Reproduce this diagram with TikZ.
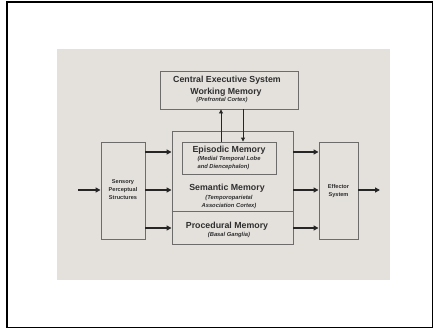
\documentclass[tikz,border=0pt]{standalone}
\usepackage{fontspec}
\setmainfont{Liberation Sans}
\usetikzlibrary{arrows.meta}
\definecolor{bg}{HTML}{E4E1DD}
\definecolor{boxline}{HTML}{6E6C6A}
\definecolor{txt}{HTML}{2E2E2E}
\tikzset{
  box/.style={draw=boxline, line width=0.9pt},
  flow/.style={line width=1.6pt, -{Triangle[length=5pt,width=5pt]}, black!85},
  thin flow/.style={line width=0.9pt, -{Triangle[length=4pt,width=4pt]}, black!85},
  title/.style={font=\bfseries\fontsize{8.8}{10}\selectfont, text=txt, inner sep=0pt},
  sub/.style={font=\bfseries\itshape\fontsize{5.8}{8}\selectfont, text=txt, inner sep=0pt, align=center},
  small/.style={font=\bfseries\fontsize{5.6}{8}\selectfont, text=txt, inner sep=0pt, align=center}
}
\begin{document}
\begin{tikzpicture}[x=1pt,y=-1pt]
\useasboundingbox (0,0) rectangle (434,329);
\fill[white] (0,0) rectangle (434,329);
\draw[line width=1.8pt] (7,2) rectangle (432.5,327.5);
\fill[bg] (57,49) rectangle (390,280);
% boxes
\node[box, minimum width=138pt, minimum height=38pt, inner sep=0pt] (ces) at (229,90) {};
\node[box, minimum width=121pt, minimum height=113pt, inner sep=0pt] (mem) at (232.5,187.5) {};
\draw[box] (mem.west |- 0,211) coordinate (dl) -- (mem.east |- 0,211) coordinate (dr);
\node[box, minimum width=94pt, minimum height=32pt, inner sep=0pt] (epi) at (229,158) {};
\node[box, minimum width=44pt, minimum height=97pt, inner sep=0pt] (sen) at (123,190.5) {};
\node[box, minimum width=39pt, minimum height=97pt, inner sep=0pt] (eff) at (338.5,190.5) {};
% texts
\node[title] (t1) at (227,80.5) {Central Executive System};
\node[title] (t2) at (226,92) {Working Memory};
\node[sub] (t3) at (222,100.5) {(Prefrontal Cortex)};
\node[title] (e1) at (229,150.5) {Episodic Memory};
\node[sub, align=left] (e2) at (229,163.5) {(Medial Temporal Lobe\\and Diencephalon)};
\node[title] (s1) at (227,188.5) {Semantic Memory};
\node[sub] (s2) at (229,201.5) {(Temporoparietal\\Association Cortex)};
\node[title] (p1) at (227,226) {Procedural Memory};
\node[sub] (p2) at (229,235) {(Basal Ganglia)};
\node[small] (sn) at (123,189.5) {Sensory\\Perceptual\\Structures};
\node[small] (ef) at (338.5,191) {Effector\\System};
% arrows
\coordinate (in) at (78,190);
\coordinate (out) at (380,190);
\draw[thin flow] (epi.north -| 221,0) -- (ces.south -| 221,0);
\draw[thin flow] (ces.south -| 243,0) -- (epi.north -| 243,0);
\foreach \y in {152,190,228}{
  \draw[flow] (sen.east |- 0,\y) -- (mem.west |- 0,\y);
  \draw[flow] (mem.east |- 0,\y) -- (eff.west |- 0,\y);
}
\draw[flow] (in) -- (sen.west |- in);
\draw[flow] (eff.east |- out) -- (out);
\end{tikzpicture}
\end{document}
